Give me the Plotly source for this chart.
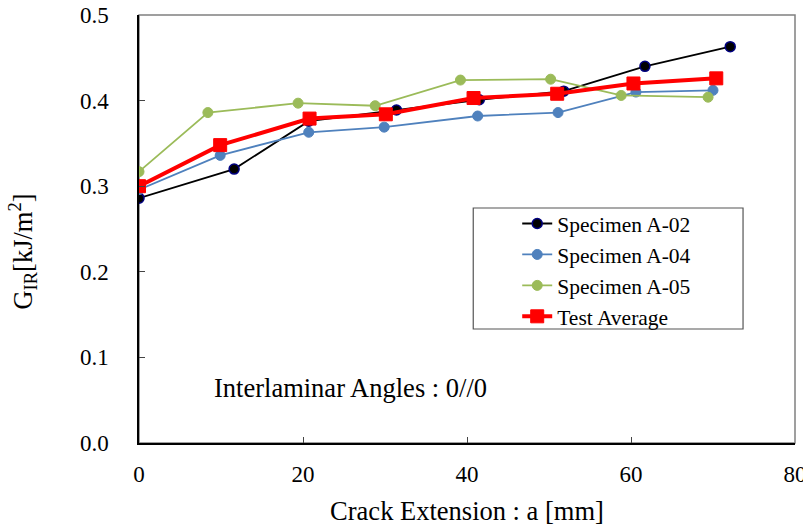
import plotly.graph_objects as go

# Data
a02_x = [0.0, 11.6, 20.7, 31.4, 41.5, 51.8, 61.7, 72.1]
a02_y = [0.286, 0.320, 0.376, 0.389, 0.401, 0.411, 0.440, 0.463]
a04_x = [0.0, 9.9, 20.7, 29.9, 41.3, 51.1, 60.6, 70.0]
a04_y = [0.296, 0.336, 0.363, 0.369, 0.382, 0.386, 0.410, 0.412]
a05_x = [0.0, 8.4, 19.4, 28.8, 39.2, 50.2, 58.8, 69.4]
a05_y = [0.317, 0.386, 0.397, 0.394, 0.424, 0.425, 0.406, 0.404]
avg_x = [0.0, 9.9, 20.8, 30.1, 40.8, 51.0, 60.3, 70.4]
avg_y = [0.300, 0.348, 0.379, 0.384, 0.403, 0.408, 0.420, 0.426]

x_ticks = [0, 20, 40, 60, 80]
y_ticks = [0.0, 0.1, 0.2, 0.3, 0.4, 0.5]
y_tick_labels = ["0.0", "0.1", "0.2", "0.3", "0.4", "0.5"]

FONT = "Liberation Serif"

fig = go.Figure()
fig.add_trace(go.Scatter(x=a02_x, y=a02_y, mode="lines+markers", name="Specimen A-02",
                         line=dict(color="black", width=1.8),
                         marker=dict(symbol="circle", size=10, color="black",
                                     line=dict(color="#000080", width=1.5))))
fig.add_trace(go.Scatter(x=a04_x, y=a04_y, mode="lines+markers", name="Specimen A-04",
                         line=dict(color="#4F81BD", width=1.8),
                         marker=dict(symbol="circle", size=10, color="#4F81BD",
                                     line=dict(color="#4F81BD", width=1))))
fig.add_trace(go.Scatter(x=a05_x, y=a05_y, mode="lines+markers", name="Specimen A-05",
                         line=dict(color="#9BBB59", width=1.8),
                         marker=dict(symbol="circle", size=10, color="#9BBB59",
                                     line=dict(color="#9BBB59", width=1))))
fig.add_trace(go.Scatter(x=avg_x, y=avg_y, mode="lines+markers", name="Test Average",
                         line=dict(color="#FF0000", width=4),
                         marker=dict(symbol="square", size=13, color="#FF0000",
                                     line=dict(color="#FF0000", width=1))))

W, H = 803, 531
L, R, T, B = 138.5, 8, 15, 88
pw, ph = W - L - R, H - T - B

def px2paper(x, y):
    return (x - L) / pw, 1 - (y - T) / ph

lx0, ly0 = px2paper(473, 208)
lx1, ly1 = px2paper(743, 329)

fig.update_layout(
    width=W, height=H,
    margin=dict(l=L, r=R, t=T, b=B, pad=0, autoexpand=False),
    paper_bgcolor="white", plot_bgcolor="white",
    font=dict(family=FONT, color="black", size=22),
    showlegend=True,
    legend=dict(x=px2paper(517, 0)[0], y=px2paper(0, 203)[1], xanchor="left", yanchor="top",
                bgcolor="rgba(0,0,0,0)", borderwidth=0,
                font=dict(family=FONT, size=21.5, color="black"),
                tracegroupgap=0),
    xaxis=dict(range=[0, 80], tickvals=x_ticks, ticks="inside", ticklen=6, tickcolor="#444",
               showline=True, linecolor="black", linewidth=1.5, showgrid=False, zeroline=False,
               tickfont=dict(family=FONT, size=23), ticklabelstandoff=10,
               ticklabeloverflow="allow", automargin=False,
               title=dict(text="Crack Extension : a [mm]", font=dict(family=FONT, size=26.5),
                          standoff=15)),
    yaxis=dict(range=[0, 0.5], tickvals=y_ticks, ticktext=y_tick_labels, ticks="inside",
               ticklen=6, tickcolor="#444", automargin=False, ticklabeloverflow="allow",
               showline=True, linecolor="black", linewidth=1.5, showgrid=False, zeroline=False,
               tickfont=dict(family=FONT, size=23), ticklabelstandoff=24),
    shapes=[
        dict(type="rect", xref="paper", yref="paper", x0=0, x1=1, y0=0, y1=1,
             line=dict(color="#808080", width=1.5), layer="below"),
        dict(type="rect", xref="paper", yref="paper", x0=lx0, x1=lx1, y0=ly1, y1=ly0,
             line=dict(color="#555555", width=1.2), fillcolor="rgba(0,0,0,0)", layer="above"),
    ],
    annotations=[
        dict(text="Interlaminar Angles : 0//0", xref="paper", yref="paper",
             x=px2paper(212, 0)[0], y=px2paper(0, 388)[1], xanchor="left", yanchor="middle",
             showarrow=False, font=dict(family=FONT, size=26.5)),
        dict(text="G<sub>IR</sub>[kJ/m<sup>2</sup>]", xref="paper", yref="paper",
             x=px2paper(22, 0)[0], y=px2paper(0, 252)[1], xanchor="center", yanchor="middle",
             textangle=-90, showarrow=False, font=dict(family=FONT, size=26.5)),
    ],
)

fig.write_html("out.html")
